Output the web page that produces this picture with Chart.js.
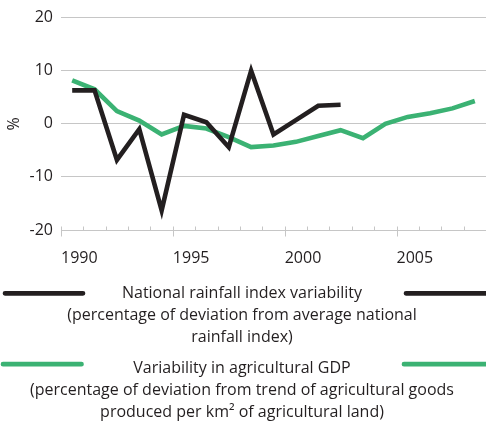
<!DOCTYPE html>
<html>
<head>
<meta charset="utf-8">
<script src="https://cdn.jsdelivr.net/npm/chart.js@4/dist/chart.umd.min.js"></script>
<style>
  html, body { margin: 0; padding: 0; background: #ffffff; }
  #wrap { position: relative; width: 486px; height: 421px; }
</style>
</head>
<body>
<div id="wrap"><canvas id="c" width="486" height="421"></canvas></div>
<script>
// ---- data ----
const rainYears = [1990, 1991, 1992, 1993, 1994, 1995, 1996, 1997, 1998, 1999, 2000, 2001, 2002];
const rainfallVariability = [6.3, 6.3, -6.8, -1.0, -16.3, 1.7, 0.3, -4.4, 10.0, -2.0, 0.7, 3.4, 3.6];

const gdpYears = [1990, 1991, 1992, 1993, 1994, 1995, 1996, 1997, 1998, 1999, 2000, 2001, 2002, 2003, 2004, 2005, 2006, 2007, 2008];
const agriGdpVariability = [8.2, 6.5, 2.4, 0.6, -2.0, -0.4, -0.9, -2.5, -4.4, -4.1, -3.4, -2.3, -1.2, -2.7, 0.0, 1.3, 2.0, 2.9, 4.3];

const xTickLabels = [1990, 1995, 2000, 2005];
const yTickValues = [-20, -10, 0, 10, 20];
const yAxisTitle = '%';

const rainLegend = ['National rainfall index variability', '(percentage of deviation from average national', 'rainfall index)'];
const gdpLegend = ['Variability in agricultural GDP', '(percentage of deviation from trend of agricultural goods', 'produced per km\u00B2 of agricultural land)'];

// ---- styles ----
const FONT = '"Open Sans", "Noto Sans", sans-serif';
const TEXT = '#231f20';
const BLACK = '#231f20';
const GREEN = '#3bb273';
const GRID = '#c6c6c6';

// mid-year points
const rainPoints = rainYears.map((y, i) => ({ x: y + 0.5, y: rainfallVariability[i] }));
const gdpPoints = gdpYears.map((y, i) => ({ x: y + 0.5, y: agriGdpVariability[i] }));

const yearTicksPlugin = {
  id: 'yearTicks',
  beforeDatasetsDraw(chart) {
    const xs = chart.scales.x;
    const ctx = chart.ctx;
    const base = Math.round(chart.chartArea.bottom) + 0.5;
    ctx.save();
    ctx.strokeStyle = GRID;
    ctx.lineWidth = 1;
    ctx.beginPath();
    for (let yr = Math.ceil(xs.min); yr < xs.max; yr++) {
      const px = Math.round(xs.getPixelForValue(yr)) + 0.5;
      const major = xTickLabels.includes(yr);
      ctx.moveTo(px, base - 4);
      ctx.lineTo(px, major ? base + 6 : base);
    }
    ctx.stroke();
    ctx.restore();
  }
};

const legendPlugin = {
  id: 'customLegend',
  afterDraw(chart) {
    const ctx = chart.ctx;
    const W = chart.width;
    const groups = [
      { lines: rainLegend, color: BLACK, base: 298.3, swatchY: 293.3, left: [5, 83], right: [406, W + 5] },
      { lines: gdpLegend, color: GREEN, base: 373.3, swatchY: 364.2, left: [3, 81.5], right: [404, W + 5] }
    ];
    ctx.save();
    groups.forEach(g => {
      ctx.strokeStyle = g.color;
      ctx.lineWidth = 4.7;
      ctx.lineCap = 'round';
      ctx.beginPath();
      ctx.moveTo(g.left[0], g.swatchY); ctx.lineTo(g.left[1], g.swatchY);
      ctx.moveTo(g.right[0], g.swatchY); ctx.lineTo(g.right[1], g.swatchY);
      ctx.stroke();
      ctx.fillStyle = TEXT;
      ctx.font = '16px ' + FONT;
      ctx.textAlign = 'center';
      ctx.textBaseline = 'alphabetic';
      g.lines.forEach((t, i) => ctx.fillText(t, 242, g.base + i * 21.9));
    });
    ctx.restore();
  }
};

new Chart(document.getElementById('c'), {
  type: 'line',
  data: {
    datasets: [
      { label: rainLegend[0], data: rainPoints, borderColor: BLACK, backgroundColor: BLACK,
        borderWidth: 4.6, pointRadius: 0, tension: 0, borderJoinStyle: 'miter', fill: false },
      { label: gdpLegend[0], data: gdpPoints, borderColor: GREEN, backgroundColor: GREEN,
        borderWidth: 4.6, pointRadius: 0, tension: 0, borderJoinStyle: 'miter', fill: false }
    ]
  },
  options: {
    responsive: false,
    animation: false,
    events: [],
    layout: { padding: { top: 17, left: 0, right: 0, bottom: 0 } },
    plugins: { legend: { display: false }, tooltip: { enabled: false } },
    scales: {
      x: {
        type: 'linear',
        min: 1990,
        max: 2009,
        afterBuildTicks: s => { s.ticks = xTickLabels.map(v => ({ value: v })); },
        afterFit: s => { s.height = 191; },
        grid: { display: false },
        border: { display: false },
        ticks: { align: 'start', padding: 11, color: TEXT, font: { family: FONT, size: 16 },
                 callback: v => String(v) }
      },
      y: {
        min: -20,
        max: 20,
        afterBuildTicks: s => { s.ticks = yTickValues.map(v => ({ value: v })); },
        afterFit: s => { s.width = 61; },
        grid: { color: GRID, lineWidth: 1, drawTicks: false },
        border: { display: false },
        ticks: { padding: 8, color: TEXT, font: { family: FONT, size: 16 } },
        title: { display: true, text: yAxisTitle, color: TEXT, font: { family: FONT, size: 16 }, padding: { top: 5, bottom: 0 } }
      }
    }
  },
  plugins: [yearTicksPlugin, legendPlugin]
});
</script>
</body>
</html>
